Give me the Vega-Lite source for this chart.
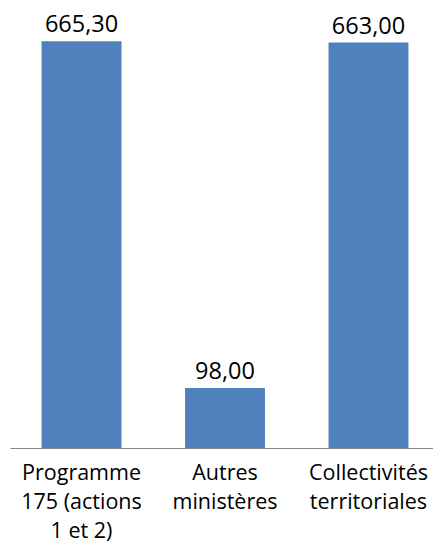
{
  "$schema": "https://vega.github.io/schema/vega-lite/v6.json",
  "width": 430,
  "height": 428,
  "autosize": {"type": "none"},
  "padding": {"left": 10, "top": 20, "right": 0, "bottom": 96},
  "config": {"view": {"stroke": null}, "font": "Open Sans"},
  "data": {
    "values": [
      {"cat": "Programme|175 (actions|1 et 2)", "val": 665.3, "lab": "665,30"},
      {"cat": "Autres|ministères", "val": 98.0, "lab": "98,00"},
      {"cat": "Collectivités|territoriales", "val": 663.0, "lab": "663,00"}
    ]
  },
  "encoding": {
    "x": {
      "field": "cat", "type": "nominal", "sort": null,
      "scale": {"paddingInner": 0.443, "paddingOuter": 0.22},
      "axis": {
        "title": null, "labelAngle": 0, "ticks": false, "domainColor": "#888888",
        "labelExpr": "split(datum.label, '|')", "labelFontSize": 21.5, "labelColor": "#000000",
        "labelLineHeight": 29, "labelPadding": 14, "labelLimit": 200
      }
    },
    "y": {"field": "val", "type": "quantitative", "scale": {"domain": [0, 700]}, "axis": null}
  },
  "layer": [
    {"mark": {"type": "bar", "color": "#4F81BD"}},
    {"mark": {"type": "text", "baseline": "alphabetic", "dy": -9, "fontSize": 23.5, "color": "#000000"},
     "encoding": {"text": {"field": "lab"}}}
  ]
}
